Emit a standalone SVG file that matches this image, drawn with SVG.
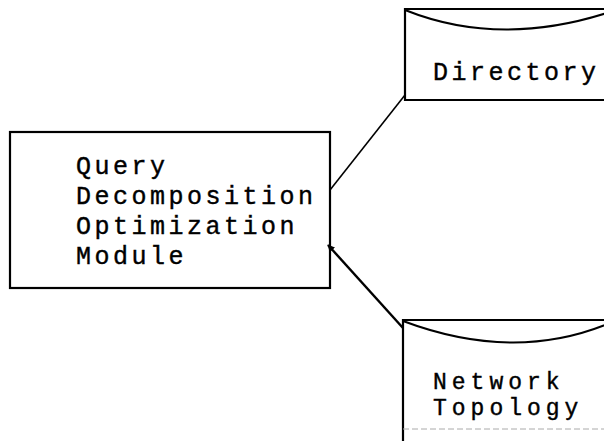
<svg xmlns="http://www.w3.org/2000/svg" width="604" height="441" viewBox="0 0 604 441">
  <style>
    .box { fill: none; stroke: #000; stroke-width: 2.2; }
    .lid { fill: none; stroke: #000; stroke-width: 2; }
    .txt { font-family: "Liberation Mono", "DejaVu Sans Mono", monospace; font-size: 25px; letter-spacing: 3.5px; fill: #000; stroke: #000; stroke-width: 0.4; }
    .small { font-size: 23px; letter-spacing: 5px; }
    .link { fill: none; stroke: #000; stroke-width: 1.6; }
    .link2 { fill: none; stroke: #000; stroke-width: 2.4; }
  </style>
  <defs>
    <marker id="tip" viewBox="0 0 10 10" refX="9" refY="5" markerWidth="3" markerHeight="3" orient="auto">
      <path d="M0,0 L10,5 L0,10 z" fill="#000"/>
    </marker>
  </defs>
  <rect width="604" height="441" fill="#fff"/>

  <g id="connectors">
    <line class="link" x1="330" y1="190" x2="405" y2="95"/>
    <line class="link2" x1="403" y1="328" x2="328" y2="245" marker-end="url(#tip)"/>
  </g>

  <g id="qdom">
    <rect class="box" x="10" y="132" width="320" height="156"/>
    <text class="txt" x="76" y="174">Query</text>
    <text class="txt" x="76" y="204">Decomposition</text>
    <text class="txt" x="76" y="234">Optimization</text>
    <text class="txt" x="76" y="264">Module</text>
  </g>

  <g id="directory">
    <path class="box" d="M610,9 L405,9 L405,100 L610,100"/>
    <path class="lid" d="M405,10 Q500,48 610,12"/>
    <text class="txt" x="433" y="80">Directory</text>
  </g>

  <g id="network-topology">
    <path class="box" d="M610,320 L403,320 L403,441"/>
    <path class="lid" d="M403,321 Q515,363 610,323"/>
    <line x1="403" y1="429" x2="604" y2="429" stroke="#aaa" stroke-width="1" stroke-dasharray="6 3"/>
    <text class="txt small" x="433" y="389">Network</text>
    <text class="txt small" x="433" y="415">Topology</text>
  </g>
</svg>
